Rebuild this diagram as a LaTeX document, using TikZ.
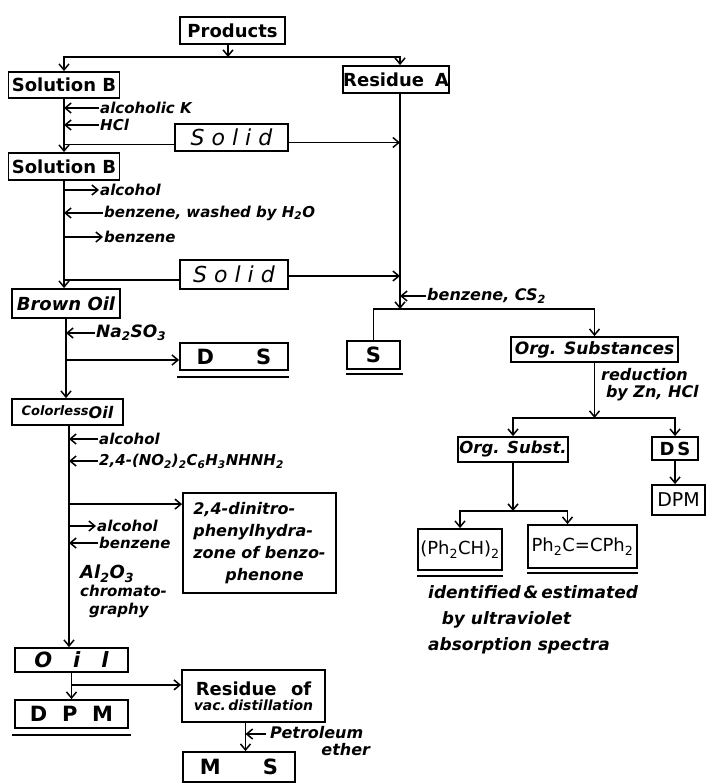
\documentclass[tikz,border=0pt]{standalone}
\usepackage{fontspec}
\setmainfont{DejaVu Sans}
\usetikzlibrary{arrows.meta,calc}
\newcommand\sbs[1]{\textsubscript{#1}}
\begin{document}
\begin{tikzpicture}[x=1pt,y=-1pt,
 box/.style={draw,line width=1.8pt,inner sep=0pt,align=center},
 ln/.style={line width=1.8pt},
 arr/.style={line width=1.8pt,-{Straight Barb[length=6pt,width=10pt,line width=1.5pt]}},
 Bt/.style={font=\bfseries\fontsize{18}{22}\selectfont},
 It/.style={font=\bfseries\itshape\fontsize{18}{22}\selectfont},
 Lt/.style={font=\bfseries\fontsize{21}{26}\selectfont},
 lbl/.style={font=\bfseries\itshape\fontsize{15}{18}\selectfont,anchor=west,inner sep=1pt},
]
\useasboundingbox (0,0) rectangle (709,783);

% ---- boxes ----
\node[box,Bt,minimum width=105,minimum height=27] (prod) at (232.5,30.5) {Products};
\node[box,Bt,minimum width=111,minimum height=26] (solB) at (64,85) {Solution B};
\node[box,Bt,minimum width=105,minimum height=27] (resA) at (396,79.5) {Residue\hspace{0.6em}A};
\node[box,font=\itshape\fontsize{22}{26}\selectfont,minimum width=113,minimum height=27] (solid1) at (231.5,137.5) {S o l i d};
\node[box,Bt,minimum width=111,minimum height=27] (solB2) at (64,166.5) {Solution B};
\node[box,font=\itshape\fontsize{22}{26}\selectfont,minimum width=108,minimum height=29] (solid2) at (234,274.5) {S o l i d};
\node[box,It,minimum width=108,minimum height=29] (brown) at (66,303.5) {Brown Oil};
\node[box,Lt,minimum width=108,minimum height=27] (ds1) at (234,356.5) {D\hspace{2em}S};
\node[box,Lt,minimum width=53,minimum height=28] (s1) at (373.5,355) {S};
\node[box,font=\bfseries\itshape\fontsize{17}{22}\selectfont,minimum width=167,minimum height=25] (org) at (594.5,349.5) {Org. Substances};
\node[box,font=\bfseries\itshape\fontsize{16.5}{22}\selectfont,minimum width=110,minimum height=25] (orgs) at (513,449.5) {Org. Subst.};
\node[box,Bt,minimum width=46,minimum height=23] (ds2) at (675,448.5) {D\,S};
\node[box,font=\fontsize{19}{22}\selectfont,minimum width=53,minimum height=30] (dpm2) at (678.5,500) {DPM};
\node[box,font=\fontsize{18}{22}\selectfont,minimum width=84,minimum height=41] (ph1) at (460,549.5) {(Ph\sbs{2}CH)\sbs{2}};
\node[box,font=\fontsize{18}{22}\selectfont,minimum width=109,minimum height=43] (ph2) at (582.5,546.5) {Ph\sbs{2}C=CPh\sbs{2}};
\node[box,font=\bfseries\itshape,minimum width=111,minimum height=26] (colorless) at (67.5,412) {{\fontsize{13}{15}\selectfont Colorless}{\fontsize{16}{20}\selectfont\raisebox{-3pt}{Oil}}};
\node[box,align=left,font=\bfseries\itshape\fontsize{16}{22}\selectfont,minimum width=153,minimum height=100] (dinitro) at (259.5,543) {2,4-dinitro-\\phenylhydra-\\zone of benzo-\\\hspace*{2em}phenone};
\node[box,font=\bfseries\itshape\fontsize{21}{26}\selectfont,minimum width=113,minimum height=24] (oil) at (71.5,660) {O\hspace{1em}i\hspace{1em}l};
\node[box,Lt,minimum width=113,minimum height=28] (dpm1) at (71.5,714) {D\hspace{0.7em}P\hspace{0.7em}M};
\node[box,minimum width=143,minimum height=52] (resvac) at (253.5,696) {{\bfseries\fontsize{18}{22}\selectfont Residue\hspace{0.8em}of}\\[3pt]{\bfseries\itshape\fontsize{14}{20}\selectfont vac.\,distillation}};
\node[box,Lt,minimum width=112,minimum height=30] (ms) at (239,767) {M\hspace{2em}S};

% underlines
\draw[ln] ($(ds1.south west)+(-2,6)$) -- ($(ds1.south east)+(0,6)$);
\draw[ln] ($(s1.south west)+(0,4)$) -- ($(s1.south east)+(2,4)$);
\draw[ln] ($(ph1.south west)+(0,5)$) -- ($(ph1.south east)+(0,5)$);
\draw[ln] ($(ph2.south west)+(0,4)$) -- ($(ph2.south east)+(0,4)$);
\draw[ln] ($(dpm1.south west)+(-2,6)$) -- ($(dpm1.south east)+(2,6)$);

% ---- top split ----
\coordinate (h0) at (228,57);
\coordinate (j1) at (400,309);
\draw[arr] (prod.south -| h0) -- (h0);
\draw[arr] (h0) -| (solB.north);
\draw[arr] (h0) -| (resA.north -| j1);
\draw[arr] (resA.south -| j1) -- (j1);

% ---- left column ----
\draw[arr] (solB.south) -- (solB2.north);
\node[lbl] (lK) at (99,108) {alcoholic K};
\node[lbl] (lH) at (99,125) {HCl};
\draw[arr] (lK.west) -- (lK.west -| solB.south);
\draw[arr] (lH.west) -- (lH.west -| solB.south);
\coordinate (s1l) at ($(solid1.west)+(0,7)$);
\coordinate (s1r) at ($(solid1.east)+(0,5)$);
\draw[ln] (s1l) -- (s1l -| solB.south);
\draw[arr] (s1r) -- (s1r -| j1);

\draw[arr] (solB2.south) -- (solB2.south |- brown.north);
\node[lbl] (la1) at (99,190) {alcohol};
\node[lbl] (lbw) at (103,213) {benzene, washed by H\sbs{2}O};
\node[lbl] (lb1) at (103,237) {benzene};
\draw[arr] (la1.west -| solB2.south) -- (la1.west);
\draw[arr] (lbw.west) -- (lbw.west -| solB2.south);
\draw[arr] (lb1.west -| solB2.south) -- (lb1.west);
\coordinate (s2l) at ($(solid2.west)+(0,5.5)$);
\coordinate (s2r) at ($(solid2.east)+(0,1.5)$);
\draw[ln] (s2l) -- (s2l -| solB2.south);
\draw[arr] (s2r) -- (s2r -| j1);

\node[lbl,font=\bfseries\itshape\fontsize{17}{18}\selectfont] (lna) at (95,333) {Na\sbs{2}SO\sbs{3}};
\draw[arr] (brown.south) -- (brown.south |- colorless.north);
\draw[arr] (lna.west) -- (lna.west -| brown.south);
\coordinate (dsa) at ($(ds1.west)+(0,3.5)$);
\draw[arr] (dsa -| brown.south) -- (dsa);

\coordinate (cx) at ($(colorless.south)+(1.5,0)$);
\draw[arr] (cx) -- (cx |- oil.north);
\node[lbl] (la2) at (98,439) {alcohol};
\node[lbl] (lno) at (98,461) {2,4-(NO\sbs{2})\sbs{2}C\sbs{6}H\sbs{3}NHNH\sbs{2}};
\draw[arr] (la2.west) -- (la2.west -| cx);
\draw[arr] (lno.west) -- (lno.west -| cx);
\coordinate (dna) at ($(dinitro.north west)+(0,12)$);
\draw[arr] (dna -| cx) -- (dna);
\node[lbl] (la3) at (96,526) {alcohol};
\node[lbl] (lb3) at (98,543) {benzene};
\draw[arr] (la3.west -| cx) -- (la3.west);
\draw[arr] (lb3.west) -- (lb3.west -| cx);
\node[font=\bfseries\itshape\fontsize{15}{18}\selectfont,align=left,anchor=north west,inner sep=0pt] (lal) at (80,565)
  {{\fontsize{18}{18}\selectfont Al\sbs{2}O\sbs{3}}\\chromato-\\\hspace*{0.6em}graphy};

\draw[arr] (oil.south) -- (dpm1.north);
\coordinate (ob) at ($(oil.south)+(0,12)$);
\draw[arr] (ob) -- (ob -| resvac.west);
\coordinate (rv) at ($(resvac.south)+(-8,0)$);
\draw[arr] (rv) -- (rv |- ms.north);
\node[font=\bfseries\itshape\fontsize{16}{17}\selectfont,align=left,anchor=north west,inner sep=0pt] (lpe) at (270,726)
  {Petroleum\\\hspace*{3.2em}ether};
\coordinate (pa) at (266,734);
\draw[arr] (pa) -- (pa -| rv);

% ---- right side ----
\node[lbl,font=\bfseries\itshape\fontsize{16}{18}\selectfont] (lcs) at (426,296) {benzene, CS\sbs{2}};
\draw[arr] (lcs.west) -- (lcs.west -| j1);
\draw[ln] (j1) -| (s1.north);
\draw[arr] (j1) -| (org.north);
\coordinate (j2) at (594.5,418);
\draw[arr] (org.south) -- (j2);
\node[font=\bfseries\itshape\fontsize{16}{17}\selectfont,align=left,anchor=west,inner sep=0pt] (lred) at (601,385)
  {reduction\\\hspace*{0.3em}by Zn, HCl};
\draw[arr] (j2) -| (orgs.north);
\draw[arr] (j2) -| (ds2.north);
\draw[arr] (ds2.south) -- (ds2.south |- dpm2.north);
\coordinate (j3) at (513,511);
\draw[arr] (orgs.south) -- (j3);
\draw[arr] (j3) -| (ph1.north);
\draw[arr] (j3) -| ($(ph2.north)+(-15,0)$);
\node[font=\bfseries\itshape\fontsize{17}{26}\selectfont,align=left,anchor=north west,inner sep=0pt] (lid) at (428,585)
  {identified\,\&\,estimated\\\hspace*{0.8em}by ultraviolet\\absorption spectra};
\end{tikzpicture}
\end{document}
